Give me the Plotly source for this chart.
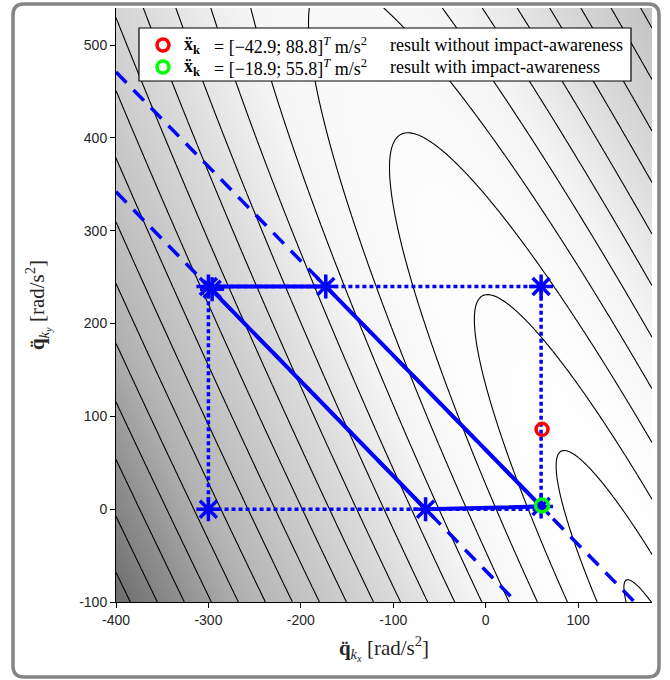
import numpy as np
import plotly.graph_objects as go

# ---------------- data ----------------
x_range = [-400, 180]
y_range = [-100, 540]
x_ticks = [-400, -300, -200, -100, 0, 100]
y_ticks = [-100, 0, 100, 200, 300, 400, 500]
x_ticklabels = ["-400", "-300", "-200", "-100", "0", "100"]
y_ticklabels = ["-100", "0", "100", "200", "300", "400", "500"]

# cost landscape (elliptic norm around an optimum outside the view)
cost_center = [217.0, -204.0]
cost_M11, cost_M12, cost_M22 = 1.1728e-3, 5.794e-4, 3.253e-4
# iso-cost levels drawn (inner ones, outer ones evenly spaced)
inner_levels = [0.8, 1.67, 2.72, 3.81]
outer_start, outer_end, outer_step = 4.85, 40.0, 1.0

# box constraint (dotted)
box_x = [-300, 60, 60, -300, -300]
box_y = [240, 240, 0, 0, 240]

# feasible parallelogram (solid)
poly_x = [-300, -173, 60, -65, -300]
poly_y = [240, 240, 3, 0, 240]

# impact constraint lines (dashed)
dash1_x = [-400, 33]
dash1_y = [342, -100]
dash2_x = [-400, 161]
dash2_y = [471, -100]

# vertices (stars)
star_x = [-300, -296, -173, 60, -300, -65, 60]
star_y = [240, 237, 240, 240, 0, 0, 3]

# results
red_x, red_y = [61], [86]
green_x, green_y = [61], [4]
legend_colors = ["#ff0000", "#00ff00"]
legend_sym = ["<b>x\u0308</b><sub><b>k</b></sub>", "<b>x\u0308</b><sub><b>k</b></sub>"]
legend_vals = ["= [\u221242.9; 88.8]<sup><i>T</i></sup> m/s<sup>2</sup>",
               "= [\u221218.9; 55.8]<sup><i>T</i></sup> m/s<sup>2</sup>"]
legend_desc = ["result without impact-awareness", "result with impact-awareness"]
x_title = "<b>q\u0308</b><sub><i>k<sub>x</sub></i></sub> [rad/s<sup>2</sup>]"
y_title = "<b>q\u0308</b><sub><i>k<sub>y</sub></i></sub> [rad/s<sup>2</sup>]"

# gray shading stops (cost value, gray level)
shade_vals = [0, 3, 6, 9.5, 14.4, 19.4, 22]
shade_gray = [255, 253, 244, 214, 180, 108, 80]

# ---------------- figure ----------------
gx = np.linspace(x_range[0], x_range[1], 320)
gy = np.linspace(y_range[0], y_range[1], 350)
X, Y = np.meshgrid(gx, gy)
dx = X - cost_center[0]
dy = Y - cost_center[1]
Z = np.sqrt(cost_M11 * dx**2 + 2 * cost_M12 * dx * dy + cost_M22 * dy**2)

levels = list(inner_levels) + list(np.arange(outer_start, outer_end, outer_step))
lev_xp = [0.0] + levels
lev_fp = [-1.0] + list(range(len(levels)))
Zlev = np.interp(Z, lev_xp, lev_fp)

zmin, zmax = shade_vals[0], shade_vals[-1]
cscale = [[(v - zmin) / (zmax - zmin), f"rgb({g},{g},{g})"] for v, g in zip(shade_vals, shade_gray)]

fig = go.Figure()
fig.add_trace(go.Heatmap(x=gx, y=gy, z=Z, zmin=zmin, zmax=zmax, zauto=False, zsmooth="best",
                         colorscale=cscale, showscale=False, hoverinfo="skip"))
fig.add_trace(go.Contour(
    x=gx, y=gy, z=Zlev, showscale=False, autocontour=False,
    contours=dict(start=0, end=len(levels) - 1, size=1, coloring="none"),
    line=dict(color="black", width=1.1), hoverinfo="skip", showlegend=False))

blue = "#0000ff"
for xs, ys in [(dash1_x, dash1_y), (dash2_x, dash2_y)]:
    fig.add_trace(go.Scatter(x=xs, y=ys, mode="lines", showlegend=False,
                             line=dict(color=blue, width=3.5, dash="15px,10px")))
fig.add_trace(go.Scatter(x=box_x, y=box_y, mode="lines", showlegend=False,
                         line=dict(color=blue, width=3.5, dash="4px,3px")))
fig.add_trace(go.Scatter(x=poly_x, y=poly_y, mode="lines", showlegend=False,
                         line=dict(color=blue, width=4)))
fig.add_trace(go.Scatter(x=star_x, y=star_y, mode="markers", showlegend=False,
                         marker=dict(symbol="asterisk-open", size=20, color=blue,
                                     line=dict(color=blue, width=3.5))))
fig.add_trace(go.Scatter(x=red_x, y=red_y, mode="markers", showlegend=False,
                         marker=dict(symbol="circle-open", size=12, color=legend_colors[0],
                                     line=dict(color=legend_colors[0], width=3.5))))
fig.add_trace(go.Scatter(x=green_x, y=green_y, mode="markers", showlegend=False,
                         marker=dict(symbol="circle-open", size=13, color=legend_colors[1],
                                     line=dict(color=legend_colors[1], width=3.5))))

L, R, T, B = 116, 18, 8, 78
W, H = 670, 680
pw, ph = W - L - R, H - T - B

def pp(px, py):
    return (px - L) / pw, (H - B - py) / ph

def rounded_rect(x0, y0, x1, y1, r):
    def P(a, b):
        u, v = pp(a, b)
        return f"{u:.5f},{v:.5f}"
    path = f"M {P(x0 + r, y0)} L {P(x1 - r, y0)} Q {P(x1, y0)} {P(x1, y0 + r)} "
    path += f"L {P(x1, y1 - r)} Q {P(x1, y1)} {P(x1 - r, y1)} "
    path += f"L {P(x0 + r, y1)} Q {P(x0, y1)} {P(x0, y1 - r)} "
    path += f"L {P(x0, y0 + r)} Q {P(x0, y0)} {P(x0 + r, y0)} Z"
    return path

# outer rounded frame
fig.add_shape(type="path", xref="paper", yref="paper", path=rounded_rect(13, 4, 659, 677, 11),
              line=dict(color="#858585", width=3.5), layer="above")

# legend box (drawn manually)
lx0, ly0 = pp(139, 28)
lx1, ly1 = pp(631, 81)
fig.add_shape(type="rect", xref="paper", yref="paper", x0=lx0, x1=lx1, y0=ly1, y1=ly0,
              line=dict(color="black", width=1.2), fillcolor="white", layer="above")
legfont = dict(family="Liberation Serif, Times New Roman, serif", size=18, color="black")
row_py = [45, 67]
for i in range(2):
    cx0, cy0 = pp(163 - 6, row_py[i] - 6)
    cx1, cy1 = pp(163 + 6, row_py[i] + 6)
    fig.add_shape(type="circle", xref="paper", yref="paper", x0=cx0, x1=cx1, y0=cy1, y1=cy0,
                  line=dict(color=legend_colors[i], width=3.5), layer="above")
    for txt, px in [(legend_sym[i], 182), (legend_vals[i], 212), (legend_desc[i], 388)]:
        ax, ay = pp(px, row_py[i])
        fig.add_annotation(x=ax, y=ay, xref="paper", yref="paper", text=txt, showarrow=False,
                           xanchor="left", yanchor="middle", font=legfont)

tickfont = dict(family="Liberation Sans, Arial, sans-serif", size=14, color="#262626")
titlefont = dict(family="Liberation Serif, Times New Roman, serif", size=21, color="#262626")
fig.update_xaxes(range=x_range, tickvals=x_ticks, ticktext=x_ticklabels, ticks="outside", ticklen=5,
                 tickcolor="black", showline=True, linecolor="black", linewidth=1, showgrid=False,
                 zeroline=False, tickfont=tickfont,
                 title=dict(text=x_title, font=titlefont, standoff=13))
fig.update_yaxes(range=y_range, tickvals=y_ticks, ticktext=y_ticklabels, ticks="outside", ticklen=5,
                 tickcolor="black", showline=True, linecolor="black", linewidth=1, showgrid=False,
                 zeroline=False, tickfont=tickfont,
                 title=dict(text=y_title, font=titlefont, standoff=28))
fig.update_layout(
    width=W, height=H, margin=dict(l=L, r=R, t=T, b=B, autoexpand=False),
    paper_bgcolor="white", plot_bgcolor="white", showlegend=False,
)
fig.write_html("out.html")
